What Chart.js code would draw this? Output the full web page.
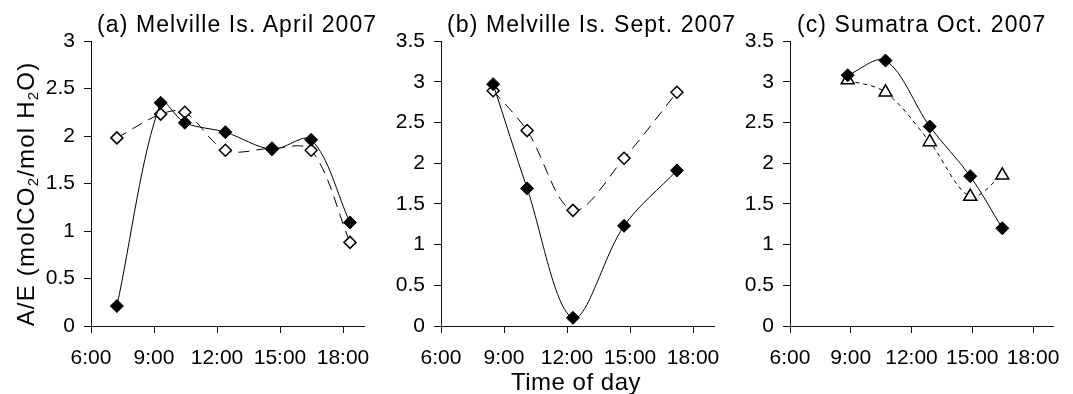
<!DOCTYPE html>
<html>
<head>
<meta charset="utf-8">
<title>A/E by time of day</title>
<script src="https://cdn.jsdelivr.net/npm/chart.js@4/dist/chart.umd.min.js"></script>
<style>
  body { margin: 0; background: #fff; width: 1073px; height: 394px; overflow: hidden; position: relative;
         font-family: "Liberation Sans", Arial, sans-serif; color: #000; }
  canvas { position: absolute; top: 0; }
  .title { position: absolute; top: 13px; font-size: 23px; line-height: 23px; letter-spacing: 1.1px; white-space: nowrap; }
  #ylabel { position: absolute; left: -124px; top: 182px; width: 300px; text-align: center;
            font-size: 24px; line-height: 24px; letter-spacing: 1.2px; white-space: nowrap; transform: rotate(-90deg); }
  #ylabel sub { font-size: 15px; vertical-align: -4px; line-height: 0; }
  #xlabel { position: absolute; left: 476px; top: 370px; width: 200px; text-align: center;
            font-size: 24px; line-height: 24px; letter-spacing: 0.5px; white-space: nowrap; }
</style>
</head>
<body>
<canvas id="chartA" width="400" height="394" style="left:0px"></canvas>
<canvas id="chartB" width="400" height="394" style="left:350px"></canvas>
<canvas id="chartC" width="374" height="394" style="left:699px"></canvas>

<div class="title" style="left:97px">(a) Melville Is. April 2007</div>
<div class="title" style="left:447px">(b) Melville Is. Sept. 2007</div>
<div class="title" style="left:797px">(c) Sumatra Oct. 2007</div>
<div id="ylabel">A/E (molCO<sub>2</sub>/mol H<sub>2</sub>O)</div>
<div id="xlabel">Time of day</div>

<script>
// x axis ticks (hours) and their labels
const xTicks = [6, 9, 12, 15, 18];
const xTickLabels = ["6:00", "9:00", "12:00", "15:00", "18:00"];

// (a) Melville Is. April 2007
const aTimes = ["7:14", "9:19", "10:28", "12:24", "14:37", "16:29", "18:20"];
const aFilled = [0.21, 2.35, 2.14, 2.04, 1.86, 1.96, 1.09];
const aOpen = [1.98, 2.23, 2.25, 1.85, 1.87, 1.85, 0.88];

// (b) Melville Is. Sept. 2007
const bTimes = ["8:29", "10:06", "12:17", "14:43", "17:14"];
const bFilled = [2.97, 1.69, 0.10, 1.23, 1.91];
const bOpen = [2.89, 2.40, 1.42, 2.06, 2.87];

// (c) Sumatra Oct. 2007
const cTimes = ["8:51", "10:43", "12:54", "14:54", "16:29"];
const cFilled = [3.08, 3.26, 2.45, 1.84, 1.20];
const cOpen = [3.02, 2.87, 2.26, 1.59, 1.85];

const FONT = "'Liberation Sans', Arial, sans-serif";

// "9:19" -> 9.3167
function toHours(t) {
  const parts = t.split(":");
  return parseInt(parts[0], 10) + parseInt(parts[1], 10) / 60;
}

function toPoints(times, values) {
  return times.map((t, i) => ({ x: toHours(t), y: values[i] }));
}

function makePanel(id, times, filled, open, yMax, openStyle, openDash, padRight) {
  const ctx = document.getElementById(id).getContext("2d");
  return new Chart(ctx, {
    type: "line",
    data: {
      datasets: [
        {
          data: toPoints(times, filled),
          borderColor: "#000",
          borderWidth: 1,
          tension: 0.33,
          pointStyle: "rectRot",
          pointRadius: 6.5,
          pointBackgroundColor: "#000",
          pointBorderColor: "#000",
          pointBorderWidth: 1
        },
        {
          data: toPoints(times, open),
          borderColor: "#000",
          borderWidth: 1,
          borderDash: openDash,
          tension: 0.33,
          pointStyle: openStyle,
          pointRadius: openStyle === "triangle" ? 7.5 : 6,
          pointBackgroundColor: "#fff",
          pointBorderColor: "#000",
          pointBorderWidth: 1.5
        }
      ]
    },
    options: {
      responsive: false,
      animation: false,
      layout: { padding: { left: 0, top: 41, right: padRight, bottom: 0 } },
      plugins: { legend: { display: false }, title: { display: false }, tooltip: { enabled: false } },
      scales: {
        x: {
          type: "linear",
          min: 6,
          max: 19,
          afterBuildTicks: (scale) => { scale.ticks = xTicks.map(v => ({ value: v })); },
          afterFit: (scale) => { scale.height = 68; },
          ticks: {
            callback: (v) => xTickLabels[xTicks.indexOf(v)],
            color: "#000",
            font: { family: FONT, size: 21 },
            padding: 13,
            maxRotation: 0,
            autoSkip: false
          },
          grid: { drawOnChartArea: false, drawTicks: true, tickLength: 7, color: "#111" },
          border: { display: true, color: "#111", width: 1 }
        },
        y: {
          min: 0,
          max: yMax,
          afterFit: (scale) => { scale.width = 91; },
          ticks: {
            stepSize: 0.5,
            callback: (v) => String(v),
            color: "#000",
            font: { family: FONT, size: 21 },
            padding: 9
          },
          grid: { drawOnChartArea: false, drawTicks: true, tickLength: 7, color: "#111" },
          border: { display: true, color: "#111", width: 1 }
        }
      }
    }
  });
}

makePanel("chartA", aTimes, aFilled, aOpen, 3, "rectRot", [11, 7], 36);
makePanel("chartB", bTimes, bFilled, bOpen, 3.5, "rectRot", [11, 7], 36);
makePanel("chartC", cTimes, cFilled, cOpen, 3.5, "triangle", [4, 4], 9);
</script>
</body>
</html>
